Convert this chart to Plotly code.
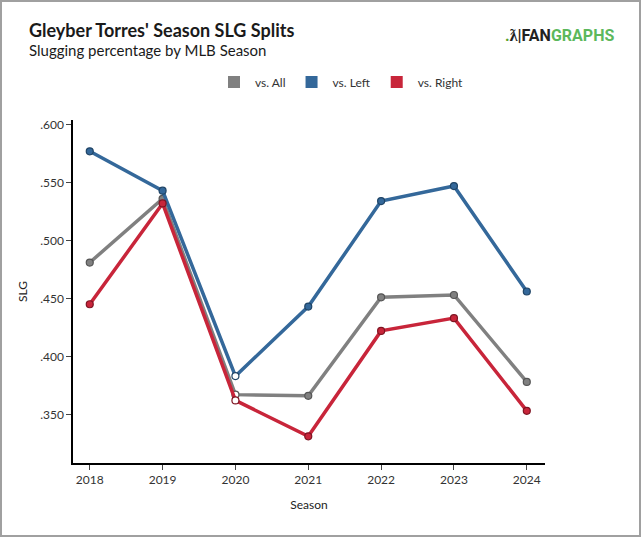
import plotly.graph_objects as go

seasons = [2018, 2019, 2020, 2021, 2022, 2023, 2024]
slg_all = [0.481, 0.536, 0.367, 0.366, 0.451, 0.453, 0.378]
slg_left = [0.577, 0.543, 0.383, 0.443, 0.534, 0.547, 0.456]
slg_right = [0.445, 0.532, 0.362, 0.331, 0.422, 0.433, 0.353]
y_ticks = [0.350, 0.400, 0.450, 0.500, 0.550, 0.600]
y_tick_labels = [".350", ".400", ".450", ".500", ".550", ".600"]

series = [
    ("vs. All", slg_all, "#808080", "#555555"),
    ("vs. Left", slg_left, "#34689a", "#1f4466"),
    ("vs. Right", slg_right, "#c8253a", "#7e1422"),
]

W, H = 641, 537
L, R, T, B = 73, 96, 120, 74
pw = W - L - R
ph = H - T - B


def px_x(x):
    return (x - L) / pw


def px_y(y):
    return (H - B - y) / ph


fig = go.Figure()
for name, vals, col, dark in series:
    fills = ["white" if s == 2020 else col for s in seasons]
    fig.add_trace(go.Scatter(
        x=seasons, y=vals, mode="lines+markers", showlegend=False,
        line=dict(color=col, width=3.5),
        marker=dict(size=7, color=fills, line=dict(color=dark, width=1.2)),
    ))
for name, vals, col, dark in series:
    fig.add_trace(go.Scatter(
        x=[None], y=[None], mode="markers", name=name,
        marker=dict(symbol="square", size=12, color=col),
    ))

# outer frame
fig.add_shape(type="rect", xref="paper", yref="paper",
              x0=px_x(1), x1=px_x(W - 1), y0=px_y(H - 1), y1=px_y(1),
              line=dict(color="#a0a0a0", width=2), layer="below")

fig.update_layout(
    width=W, height=H,
    margin=dict(l=L, r=R, t=T, b=B),
    paper_bgcolor="white", plot_bgcolor="white",
    font=dict(family="Lato", color="#222222", size=12),
    legend=dict(orientation="h", x=px_x(341), xanchor="center",
                y=px_y(82), yanchor="middle",
                font=dict(size=12, color="#333333"),
                itemwidth=32),
    xaxis=dict(
        range=[2017.77, 2024.25], tickvals=seasons, ticks="outside", ticklen=5,
        tickcolor="#444444", showline=True, linecolor="black", linewidth=1.5,
        showgrid=False, zeroline=False,
        title=dict(text="Season", font=dict(size=12), standoff=14),
        tickfont=dict(size=12, color="#333333"),
    ),
    yaxis=dict(
        range=[0.308, 0.604], tickvals=y_ticks, ticktext=y_tick_labels,
        ticks="outside", ticklen=5, tickcolor="#444444",
        showline=True, linecolor="black", linewidth=1.5,
        showgrid=False, zeroline=False,
        title=dict(text="SLG", font=dict(size=12), standoff=10),
        tickfont=dict(size=12, color="#333333"),
    ),
    annotations=[
        dict(xref="paper", yref="paper", x=px_x(27), xanchor="left",
             y=px_y(30), yanchor="middle", showarrow=False,
             text="<b>Gleyber Torres' Season SLG Splits</b>",
             font=dict(size=18, color="#1a1a1a")),
        dict(xref="paper", yref="paper", x=px_x(27), xanchor="left",
             y=px_y(50), yanchor="middle", showarrow=False,
             text="Slugging percentage by MLB Season",
             font=dict(size=15, color="#1a1a1a")),
        dict(xref="paper", yref="paper", x=px_x(616), xanchor="right",
             y=px_y(36), yanchor="middle", showarrow=False,
             text="<b><span style='color:#5aa02c'>.</span><span style='color:#222'>ƛ|FAN</span><span style='color:#5cb85c'>GRAPHS</span></b>",
             font=dict(size=16, family="Roboto")),
    ],
)

fig.write_html("out.html", config={"displayModeBar": False},
               post_script="document.body.style.margin='0';")
